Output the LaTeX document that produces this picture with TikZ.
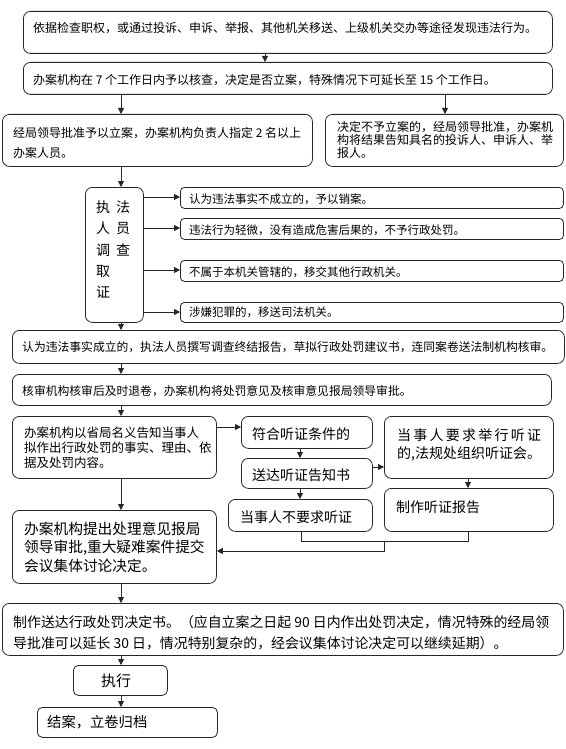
\documentclass[tikz,border=0pt]{standalone}
\usepackage{fontspec}
\setmainfont{Noto Sans CJK SC}
\usetikzlibrary{arrows.meta}
\begin{document}
\begin{tikzpicture}[x=1pt,y=-1pt,
  box/.style={draw=black!85, line width=0.8pt, rounded corners=7pt, inner sep=0pt, anchor=north west},
  sbox/.style={box, rounded corners=4pt},
  txt/.style={inner sep=0pt, anchor=west, align=left, text=black},
  arr/.style={draw=black!85, line width=0.8pt, -{Triangle[length=6pt,width=6pt]}},
  ln/.style={draw=black!85, line width=0.8pt},
  f12/.style={font=\fontsize{12}{20}\selectfont},
  f11/.style={font=\fontsize{11.5}{13}\selectfont},
  f14/.style={font=\fontsize{14}{18}\selectfont}]
\fill[white] (0,0) rectangle (565,749);
\useasboundingbox (0,0) rectangle (565,749);
% boxes
\node[box, minimum width=529pt, minimum height=42pt] (b1) at (23,11) {};
\node[box, minimum width=529pt, minimum height=32pt] (b2) at (23,62) {};
\node[box, minimum width=310pt, minimum height=52pt] (b3) at (2,114) {};
\node[box, minimum width=238pt, minimum height=52pt] (b4) at (325,114) {};
\node[box, minimum width=58pt, minimum height=135pt] (e) at (85,187) {};
\node[sbox, minimum width=383pt, minimum height=21pt] (ba) at (180,187) {};
\node[sbox, minimum width=383pt, minimum height=21pt] (bb) at (180,218) {};
\node[sbox, minimum width=383pt, minimum height=21pt] (bc) at (180,260) {};
\node[sbox, minimum width=383pt, minimum height=20pt] (bd) at (180,302) {};
\node[box, minimum width=552pt, minimum height=33pt] (b5) at (12,330) {};
\node[box, minimum width=539pt, minimum height=31pt] (b6) at (12,374) {};
\node[box, minimum width=204pt, minimum height=62pt] (b7) at (12,416) {};
\node[box, minimum width=131pt, minimum height=32pt] (h1) at (241,416) {};
\node[box, minimum width=131pt, minimum height=30pt] (h2) at (241,458) {};
\node[box, minimum width=144pt, minimum height=32pt] (h3) at (228,499) {};
\node[box, minimum width=169pt, minimum height=62pt] (h4) at (384,416) {};
\node[box, minimum width=169pt, minimum height=43pt] (h5) at (384,488) {};
\node[box, minimum width=204pt, minimum height=73pt] (b8) at (12,510) {};
\node[box, minimum width=561pt, minimum height=52pt] (b9) at (2,603) {};
\node[box, rounded corners=5pt, minimum width=94pt, minimum height=30pt] (ex) at (73,665) {};
\node[box, rounded corners=5pt, minimum width=180pt, minimum height=30pt] (ja) at (37,707) {};
% texts
\node[txt, f12] (t1) at (33,28) {依据检查职权，或通过投诉、申诉、举报、其他机关移送、上级机关交办等途径发现违法行为。};
\node[txt, f12] (t2) at (33,80) {办案机构在 7 个工作日内予以核查，决定是否立案，特殊情况下可延长至 15 个工作日。};
\node[txt, f12] (t3) at (13,143) {经局领导批准予以立案，办案机构负责人指定 2 名以上\\办案人员。};
\node[txt, font=\fontsize{12}{12.8}\selectfont] (t4) at (337,140) {决定不予立案的，经局领导批准，办案机\\构将结果告知具名的投诉人、申诉人、举\\报人。};
\node[txt, font=\fontsize{14}{21.2}\selectfont] (te) at (96,249.5) {执\hspace{6pt}法\\人\hspace{6pt}员\\调\hspace{6pt}查\\取\\证};
\node[txt, f11] (ta) at (189,199) {认为违法事实不成立的，予以销案。};
\node[txt, f11] (tb) at (189,230) {违法行为轻微，没有造成危害后果的，不予行政处罚。};
\node[txt, f11] (tc) at (189,272) {不属于本机关管辖的，移交其他行政机关。};
\node[txt, f11] (td) at (189,312) {涉嫌犯罪的，移送司法机关。};
\node[txt, font=\fontsize{11.8}{14}\selectfont] (t5) at (22,347) {认为违法事实成立的，执法人员撰写调查终结报告，草拟行政处罚建议书，连同案卷送法制机构核审。};
\node[txt, font=\fontsize{11.8}{14}\selectfont] (t6) at (22,391) {核审机构核审后及时退卷，办案机构将处罚意见及核审意见报局领导审批。};
\node[txt, font=\fontsize{12.5}{15}\selectfont] (t7) at (24,448) {办案机构以省局名义告知当事人\\拟作出行政处罚的事实、理由、依\\据及处罚内容。};
\node[txt, f14] (th1) at (252,434) {符合听证条件的};
\node[txt, f14] (th2) at (252,475) {送达听证告知书};
\node[txt, f14] (th3) at (240,517) {当事人不要求听证};
\node[txt, font=\fontsize{14}{18}\selectfont] (th4) at (397,445) {\makebox[144pt][s]{当\hfil 事\hfil 人\hfil 要\hfil 求\hfil 举\hfil 行\hfil 听\hfil 证}\\的,法规处组织听证会。};
\node[txt, f14] (th5) at (396,507) {制作听证报告};
\node[txt, font=\fontsize{14.7}{18.5}\selectfont] (t8) at (24,547) {办案机构提出处理意见报局\\领导审批,重大疑难案件提交\\会议集体讨论决定。};
\node[txt, font=\fontsize{13.9}{21}\selectfont] (t9) at (13,632.5) {制作送达行政处罚决定书。（应自立案之日起 90 日内作出处罚决定，情况特殊的经局领\\导批准可以延长 30 日，情况特别复杂的，经会议集体讨论决定可以继续延期）。};
\node[inner sep=0pt, font=\fontsize{15}{18}\selectfont] (tex) at (116,681) {执行};
\node[txt, font=\fontsize{14.3}{18}\selectfont] (tja) at (47,722) {结案，立卷归档};
% arrows
\draw[arr] (b1.south -| 265,0) -- (b2.north -| 265,0);
\draw[arr] (b2.south -| 121,0) -- (b3.north -| 121,0);
\draw[arr] (b2.south -| 445,0) -- (b4.north -| 445,0);
\draw[arr] (b3.south -| 121,0) -- (e.north -| 121,0);
\draw[arr] (e.east |- 0,197) -- (ba.west |- 0,197);
\draw[arr] (e.east |- 0,228) -- (bb.west |- 0,228);
\draw[arr] (e.east |- 0,270) -- (bc.west |- 0,270);
\draw[arr] (e.east |- 0,312) -- (bd.west |- 0,312);
\draw[arr] (e.south -| 121,0) -- (b5.north -| 121,0);
\draw[arr] (b5.south -| 121,0) -- (b6.north -| 121,0);
\draw[arr] (b6.south -| 121,0) -- (b7.north -| 121,0);
\draw[arr] (b7.east |- 0,427) -- (h1.west |- 0,427);
\draw[arr] (h1.south -| 300,0) -- (h2.north -| 300,0);
\draw[arr] (h2.south -| 300,0) -- (h3.north -| 300,0);
\draw[arr] (h2.east |- 0,467) -- (h4.west |- 0,467);
\draw[arr] (h4.south -| 468,0) -- (h5.north -| 468,0);
\coordinate (j1) at (301,541);
\coordinate (j2) at (468,541);
\coordinate (j3) at (384,541);
\coordinate (j4) at (384,551);
\draw[ln] (h3.south -| j1) -- (j1) -- (j2) -- (h5.south -| j2);
\draw[arr] (j3) -- (j4) -- (b8.east |- j4);
\draw[arr] (b7.south -| 121,0) -- (b8.north -| 121,0);
\draw[arr] (b8.south -| 121,0) -- (b9.north -| 121,0);
\draw[arr] (b9.south -| 121,0) -- (ex.north -| 121,0);
\draw[arr] (ex.south -| 121,0) -- (ja.north -| 121,0);
\end{tikzpicture}
\end{document}
